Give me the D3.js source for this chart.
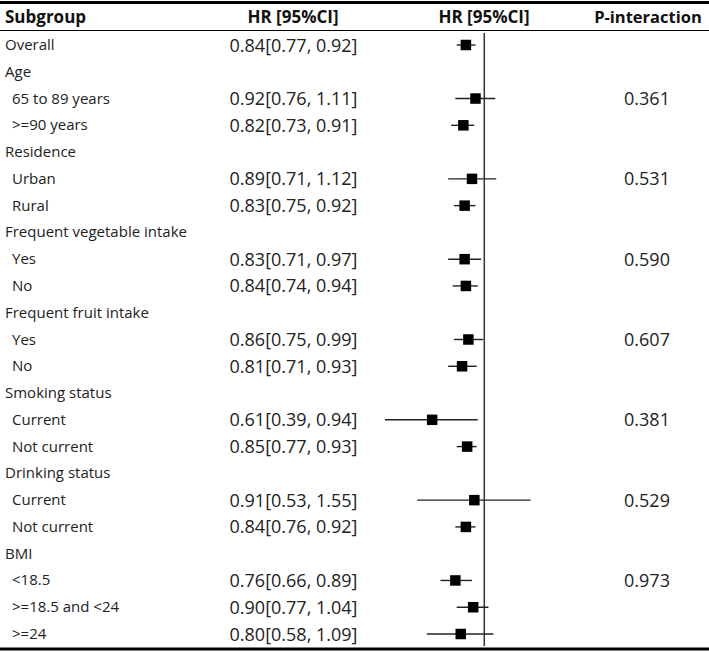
<!DOCTYPE html>
<html><head><meta charset="utf-8">
<script src="https://cdn.jsdelivr.net/npm/d3@7"></script>
<style>body{margin:0;background:#fff}</style></head>
<body><svg id="c" width="709" height="652"></svg>
<script>
const labels = ["Overall","Age","65 to 89 years",">=90 years","Residence","Urban","Rural",
 "Frequent vegetable intake","Yes","No","Frequent fruit intake","Yes","No",
 "Smoking status","Current","Not current","Drinking status","Current","Not current",
 "BMI","<18.5",">=18.5 and <24",">=24"];
const indent = [0,0,1,1,0,1,1,0,1,1,0,1,1,0,1,1,0,1,1,0,1,1,1];
const hr  = [0.84,null,0.92,0.82,null,0.89,0.83,null,0.83,0.84,null,0.86,0.81,null,0.61,0.85,null,0.91,0.84,null,0.76,0.90,0.80];
const lo  = [0.77,null,0.76,0.73,null,0.71,0.75,null,0.71,0.74,null,0.75,0.71,null,0.39,0.77,null,0.53,0.76,null,0.66,0.77,0.58];
const hi  = [0.92,null,1.11,0.91,null,1.12,0.92,null,0.97,0.94,null,0.99,0.93,null,0.94,0.93,null,1.55,0.92,null,0.89,1.04,1.09];
const pInt = ["","","0.361","","","0.531","","","0.590","","","0.607","","","0.381","","","0.529","","","0.973","",""];
const headers = ["Subgroup","HR [95%CI]","HR [95%CI]","P-interaction"];

const svg = d3.select("#c");
const font = "'Open Sans', sans-serif";
const x = d3.scaleLog().domain([0.3, 2]).range([357.3, 557.4]);
const y = d3.scaleLinear().domain([0, labels.length - 1]).range([45, 634]);
const fmt = d3.format(".2f");

// rules
svg.append("line").attr("x1",0).attr("x2",709).attr("y1",2.5).attr("y2",2.5).attr("stroke","#000").attr("stroke-width",3);
svg.append("line").attr("x1",0).attr("x2",709).attr("y1",30.5).attr("y2",30.5).attr("stroke","#000").attr("stroke-width",1);
svg.append("line").attr("x1",0).attr("x2",709).attr("y1",649).attr("y2",649).attr("stroke","#000").attr("stroke-width",3);

// headers
const hx = [5, 293, 484, 648], ha = ["start","middle","middle","middle"];
const hs = [17, 17, 17, 16.5];
headers.forEach((h,i)=>{
  svg.append("text").attr("x",hx[i]).attr("y",23).attr("text-anchor",ha[i])
    .attr("font-family",font).attr("font-weight","bold").attr("font-size",hs[i]).attr("fill","#111").text(h);
});

// reference line at HR = 1
svg.append("line").attr("x1",x(1)).attr("x2",x(1)).attr("y1",33).attr("y2",646).attr("stroke","#333").attr("stroke-width",1.5);

const rows = svg.selectAll("g.row").data(labels.map((l,i)=>({l,i}))).enter().append("g");
rows.append("text").attr("x",d=>indent[d.i]?12:5).attr("y",d=>y(d.i)+5)
  .attr("font-family",font).attr("font-size",15).attr("fill","#222").text(d=>d.l);
rows.filter(d=>hr[d.i]!=null).append("text").attr("x",293.5).attr("y",d=>y(d.i)+6.5)
  .attr("text-anchor","middle").attr("font-family",font).attr("font-size",18).attr("fill","#222")
  .text(d=>`${fmt(hr[d.i])}[${fmt(lo[d.i])}, ${fmt(hi[d.i])}]`);
rows.filter(d=>pInt[d.i]).append("text").attr("x",647).attr("y",d=>y(d.i)+6.5)
  .attr("text-anchor","middle").attr("font-family",font).attr("font-size",18).attr("fill","#222")
  .text(d=>pInt[d.i]);
const pts = rows.filter(d=>hr[d.i]!=null);
pts.append("line").attr("x1",d=>x(lo[d.i])).attr("x2",d=>x(hi[d.i]))
  .attr("y1",d=>y(d.i)).attr("y2",d=>y(d.i)).attr("stroke","#222").attr("stroke-width",1.4);
const s = 10.5;
pts.append("rect").attr("x",d=>x(hr[d.i])-s/2).attr("y",d=>y(d.i)-s/2).attr("width",s).attr("height",s).attr("fill","#000");
</script></body></html>
